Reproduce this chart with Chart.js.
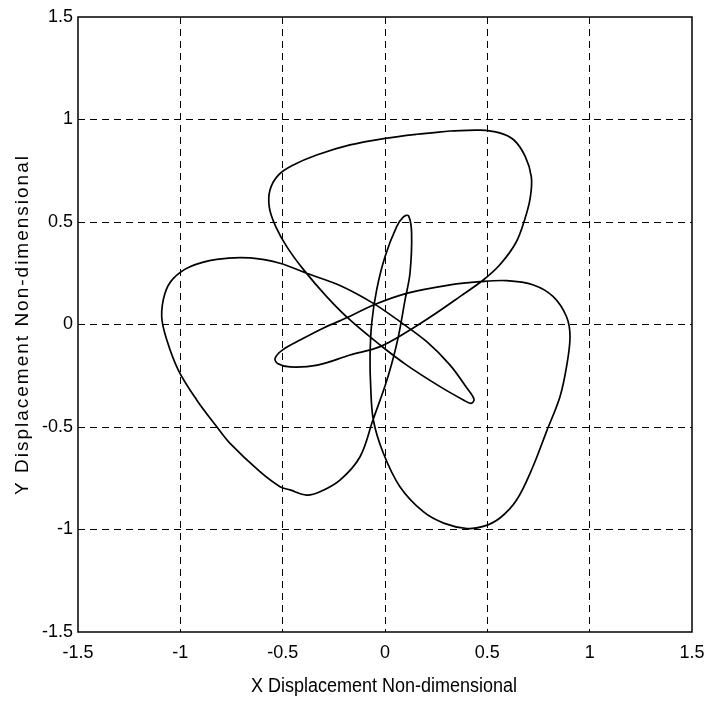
<!DOCTYPE html>
<html>
<head>
<meta charset="utf-8">
<title>Displacement orbit</title>
<script src="https://cdn.jsdelivr.net/npm/chart.js@4.4.1/dist/chart.umd.min.js"></script>
<style>
  html, body { margin: 0; padding: 0; background: #fff; }
  #wrap { width: 709px; height: 703px; }
</style>
</head>
<body>
<div id="wrap"><canvas id="canvas" width="709" height="703"></canvas></div>
<script>
// orbit traced point by point, closed back on the first point
var xValues = [
	0.318, 0.464, 0.56, 0.63, 0.685, 0.715, 0.71, 0.685, 0.64, 0.56,
	0.48, 0.366, 0.236, 0.122, -0.024, -0.171, -0.33, -0.464, -0.525, -0.537,
	-0.5, -0.415, -0.30, -0.171, -0.057, 0.106, 0.318, 0.464, 0.594, 0.725,
	0.822, 0.887, 0.904, 0.887, 0.855, 0.79, 0.72, 0.643, 0.56, 0.48,
	0.40, 0.29, 0.187, 0.073, -0.008, -0.057, -0.07, -0.073, -0.065, -0.041,
	0.0, 0.057, 0.09, 0.115, 0.13, 0.122, 0.098, 0.065, 0.033, 0.0,
	-0.059, -0.122, -0.22, -0.318, -0.383, -0.464, -0.513, -0.611, -0.757, -0.822,
	-0.92, -1.01, -1.066, -1.091, -1.075, -1.034, -0.953, -0.822, -0.66, -0.513,
	-0.383, -0.22, -0.057, 0.073, 0.204, 0.318, 0.40, 0.435, 0.42, 0.383,
	0.269, 0.106, -0.024, -0.171, -0.285, -0.40, -0.48, -0.535, -0.565, -0.562,
	-0.521, -0.448, -0.334, -0.171, 0.0, 0.155, 0.318
];
var yValues = [
	0.944, 0.948, 0.935, 0.90, 0.82, 0.72, 0.62, 0.52, 0.40, 0.29,
	0.217, 0.136, 0.046, -0.027, -0.108, -0.149, -0.198, -0.207, -0.19, -0.165,
	-0.124, -0.076, -0.017, 0.04, 0.095, 0.152, 0.193, 0.209, 0.214, 0.193,
	0.136, 0.038, -0.06, -0.206, -0.352, -0.52, -0.70, -0.856, -0.945, -0.985,
	-0.995, -0.97, -0.913, -0.791, -0.628, -0.466, -0.30, -0.157, 0.006, 0.168,
	0.331, 0.477, 0.525, 0.53, 0.445, 0.25, 0.12, -0.06, -0.19, -0.30,
	-0.466, -0.645, -0.759, -0.816, -0.832, -0.807, -0.791, -0.718, -0.58, -0.499,
	-0.368, -0.222, -0.076, 0.038, 0.152, 0.225, 0.282, 0.318, 0.325, 0.299,
	0.25, 0.19, 0.103, 0.014, -0.084, -0.198, -0.31, -0.365, -0.385, -0.368,
	-0.303, -0.198, -0.1, 0.022, 0.136, 0.27, 0.38, 0.48, 0.57, 0.656,
	0.729, 0.778, 0.827, 0.876, 0.908, 0.928, 0.944
];
var tickValues = [-1.5, -1, -0.5, 0, 0.5, 1, 1.5];
var xTitle = 'X Displacement Non-dimensional';
var yTitle = 'Y Displacement Non-dimensional';

var points = xValues.map(function(x, i) {
	return {x: x, y: yValues[i]};
});

var tickFont = {family: "'Liberation Sans', Arial, sans-serif", size: 18};

// dashed grid, but not on the frame itself
function gridColor(ctx) {
	var v = ctx.tick ? ctx.tick.value : 0;
	return (v <= tickValues[0] || v >= tickValues[tickValues.length - 1]) ? 'rgba(0,0,0,0)' : '#000';
}

// closed box around the plot, plus both axis titles
var framePlugin = {
	id: 'frame',
	afterDraw: function(chart) {
		var ctx = chart.ctx;
		var a = chart.chartArea;
		ctx.save();
		ctx.strokeStyle = '#000';
		ctx.lineWidth = 1.5;
		ctx.setLineDash([]);
		ctx.strokeRect(a.left, a.top, a.right - a.left, a.bottom - a.top);
		ctx.fillStyle = '#000';
		ctx.textAlign = 'center';
		ctx.textBaseline = 'middle';

		// x title, a bit condensed
		ctx.save();
		ctx.translate(384, 686);
		ctx.scale(0.9, 1);
		ctx.font = "20px 'Liberation Sans', Arial, sans-serif";
		ctx.fillText(xTitle, 0, 0);
		ctx.restore();

		// y title, letter spaced
		ctx.translate(23, (a.top + a.bottom) / 2);
		ctx.rotate(-Math.PI / 2);
		ctx.font = "19px 'Liberation Sans', Arial, sans-serif";
		ctx.letterSpacing = '2px';
		ctx.fillText(yTitle, 0, 0);
		ctx.restore();
	}
};

var chart = new Chart(document.getElementById('canvas').getContext('2d'), {
	type: 'scatter',
	data: {
		datasets: [{
			data: points,
			showLine: true,
			borderColor: '#000',
			borderWidth: 1.7,
			pointRadius: 0,
			tension: 0.35,
			fill: false
		}]
	},
	options: {
		responsive: false,
		animation: false,
		devicePixelRatio: 1,
		layout: {padding: {left: 0, top: 17, right: 17, bottom: 0}},
		plugins: {
			legend: {display: false},
			tooltip: {enabled: false}
		},
		scales: {
			x: {
				type: 'linear',
				min: -1.5,
				max: 1.5,
				afterBuildTicks: function(scale) {
					scale.ticks = tickValues.map(function(v) { return {value: v}; });
				},
				afterFit: function(scale) {
					scale.height = 71;
					// end labels may hang past the frame, no extra room needed
					scale.paddingLeft = 0;
					scale.paddingRight = 0;
				},
				ticks: {
					font: tickFont,
					color: '#000',
					padding: 10,
					maxRotation: 0,
					autoSkip: false,
					callback: function(v) { return String(Math.round(v * 10) / 10); }
				},
				grid: {color: gridColor, lineWidth: 1, drawTicks: false},
				border: {display: false, dash: [7, 5]}
			},
			y: {
				type: 'linear',
				min: -1.5,
				max: 1.5,
				afterBuildTicks: function(scale) {
					scale.ticks = tickValues.map(function(v) { return {value: v}; });
				},
				afterFit: function(scale) {
					scale.width = 78;
					scale.paddingTop = 0;
					scale.paddingBottom = 0;
				},
				ticks: {
					font: tickFont,
					color: '#000',
					padding: 5,
					autoSkip: false,
					callback: function(v) { return String(Math.round(v * 10) / 10); }
				},
				grid: {color: gridColor, lineWidth: 1, drawTicks: false},
				border: {display: false, dash: [7, 5]}
			}
		}
	},
	plugins: [framePlugin]
});
</script>
</body>
</html>
